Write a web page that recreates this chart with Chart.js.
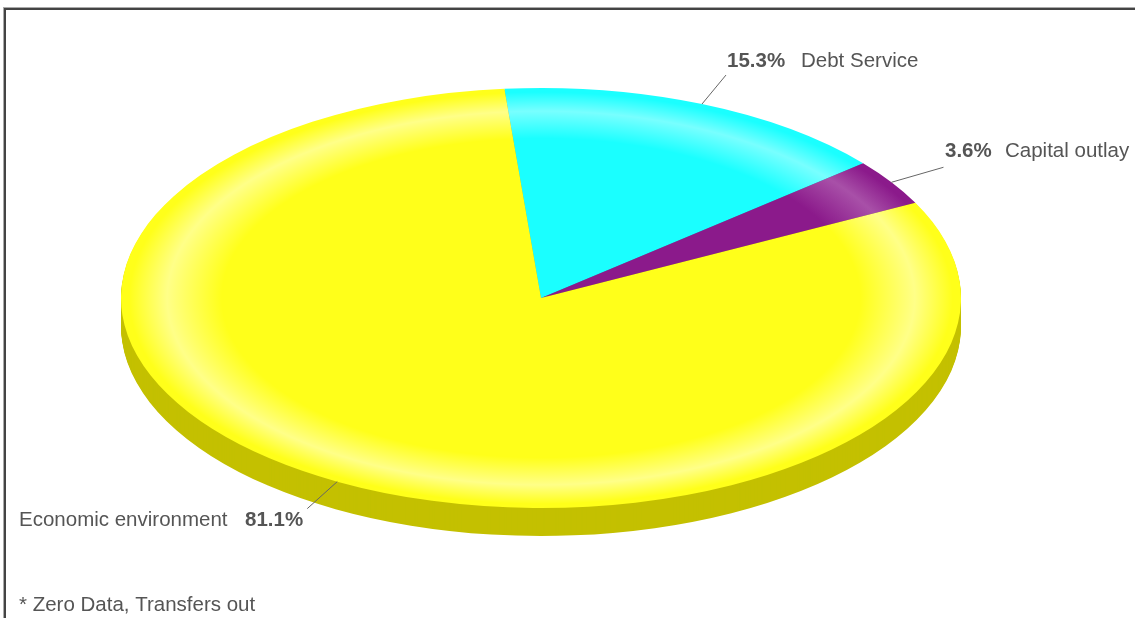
<!DOCTYPE html>
<html>
<head>
<meta charset="utf-8">
<script src="https://cdn.jsdelivr.net/npm/chart.js@4"></script>
<style>
  html, body { margin: 0; padding: 0; background: #fff; overflow: hidden; }
  #wrap { position: relative; width: 1135px; height: 618px; }
  #frame { position: absolute; left: 4px; top: 8px; width: 1300px; height: 800px;
           border-left: 2px solid #444; border-top: 2px solid #444; box-shadow: -1px -1px 0 #aaa; }
  #c { position: absolute; left: 0; top: 0; }
</style>
</head>
<body>
<div id="wrap">
  <div id="frame"></div>
  <canvas id="c" width="1135" height="618"></canvas>
</div>
<script>
const labels = ['Debt Service', 'Capital outlay', 'Economic environment'];
const values = [15.3, 3.6, 81.1];
const baseColors = ['#1affff', '#8b1a8b', '#ffff1a'];
const lightColors = ['#78ffff', '#a850a8', '#ffff88'];
const sideColors = ['#15c4c4', '#5e125e', '#c4c000'];
const footnote = '* Zero Data, Transfers out';

const DEPTH = 28;
const SQUASH = 0.5;
const FONT = 'Liberation Sans, Arial, sans-serif';
const FSIZE = 20.5;

function rimGradient(context) {
  const chart = context.chart;
  const area = chart.chartArea;
  const i = context.dataIndex;
  if (!area) return baseColors[i];
  const cx = (area.left + area.right) / 2;
  const cy = (area.top + area.bottom) / 2;
  const r = chart.options.radius;
  const g = chart.ctx.createRadialGradient(cx, cy, 0, cx, cy, r);
  g.addColorStop(0, baseColors[i]);
  g.addColorStop(0.76, baseColors[i]);
  g.addColorStop(0.89, lightColors[i]);
  g.addColorStop(0.98, baseColors[i]);
  g.addColorStop(1, baseColors[i]);
  return g;
}

function sector(ctx, a) {
  ctx.beginPath();
  ctx.moveTo(a.x, a.y);
  ctx.arc(a.x, a.y, a.outerRadius, a.startAngle, a.endAngle);
  ctx.closePath();
}

// squash the pie into an ellipse and give it a side
const pie3d = {
  id: 'pie3d',
  beforeDatasetsDraw(chart) {
    const ctx = chart.ctx;
    const arcs = chart.getDatasetMeta(0).data;
    const cy = arcs[0].y;
    for (let d = DEPTH; d >= 1; d--) {
      ctx.save();
      ctx.translate(0, cy + d);
      ctx.scale(1, SQUASH);
      ctx.translate(0, -cy);
      arcs.forEach((a, i) => {
        sector(ctx, a);
        ctx.fillStyle = sideColors[i];
        ctx.fill();
      });
      ctx.restore();
    }
    ctx.save();
    ctx.translate(0, cy);
    ctx.scale(1, SQUASH);
    ctx.translate(0, -cy);
  },
  afterDatasetsDraw(chart) {
    chart.ctx.restore();
  }
};

// leader lines and labels
const labelPlace = [
  { dx: 24, dy: -29, px: 727, lx: 801, y: 61 },
  { dx: 52, dy: -15, px: 945, lx: 1005, y: 151 },
  { dx: -30, dy: 27, px: 245, lx: 19, y: 520 }
];

const pieLabels = {
  id: 'pieLabels',
  afterDraw(chart) {
    const ctx = chart.ctx;
    const arcs = chart.getDatasetMeta(0).data;
    const total = values.reduce((s, v) => s + v, 0);
    ctx.save();
    arcs.forEach((a, i) => {
      const mid = (a.startAngle + a.endAngle) / 2;
      const x0 = a.x + Math.cos(mid) * a.outerRadius;
      const y0 = a.y + Math.sin(mid) * a.outerRadius * SQUASH;
      const p = labelPlace[i];
      ctx.strokeStyle = '#666';
      ctx.lineWidth = 1;
      ctx.beginPath();
      ctx.moveTo(x0, y0);
      ctx.lineTo(x0 + p.dx, y0 + p.dy);
      ctx.stroke();
      ctx.fillStyle = '#555';
      ctx.textBaseline = 'middle';
      ctx.textAlign = 'left';
      ctx.font = 'bold ' + FSIZE + 'px ' + FONT;
      ctx.fillText((values[i] / total * 100).toFixed(1) + '%', p.px, p.y);
      ctx.font = FSIZE + 'px ' + FONT;
      ctx.fillText(labels[i], p.lx, p.y);
    });
    ctx.font = FSIZE + 'px ' + FONT;
    ctx.fillText(footnote, 19, 605);
    ctx.restore();
  }
};

new Chart(document.getElementById('c'), {
  type: 'pie',
  data: {
    labels,
    datasets: [{
      data: values,
      backgroundColor: rimGradient,
      borderWidth: 0,
      clip: false
    }]
  },
  options: {
    responsive: false,
    animation: false,
    radius: 420,
    rotation: -5,
    layout: { padding: { left: 0, right: 53, top: 0, bottom: 22 } },
    plugins: { legend: { display: false }, tooltip: { enabled: false } }
  },
  plugins: [pie3d, pieLabels]
});
</script>
</body>
</html>
